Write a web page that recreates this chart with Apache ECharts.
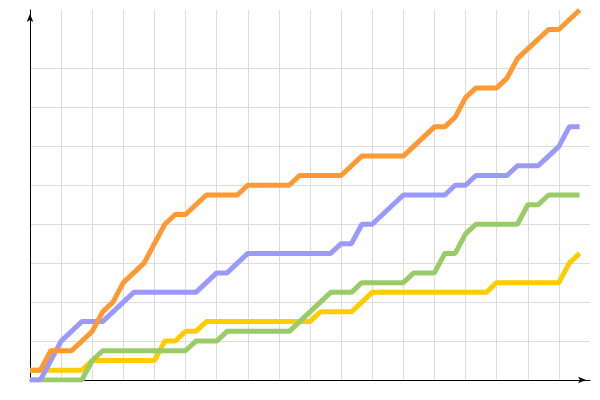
<!DOCTYPE html>
<html>
<head>
<meta charset="utf-8">
<script src="https://cdn.jsdelivr.net/npm/echarts@6/dist/echarts.min.js"></script>
<style>
  html, body { margin: 0; padding: 0; background: #fff; }
  #chart { width: 600px; height: 400px; }
</style>
</head>
<body>
<div id="chart"></div>
<script>
// cumulative counts, one value per step (54 steps)
var orange = [1, 1, 3, 3, 3, 4, 5, 7, 8, 10, 11, 12, 14, 16, 17, 17, 18, 19,
  19, 19, 19, 20, 20, 20, 20, 20, 21, 21, 21, 21, 21, 22, 23, 23, 23, 23,
  23, 24, 25, 26, 26, 27, 29, 30, 30, 30, 31, 33, 34, 35, 36, 36, 37, 38];
var purple = [0, 0, 2, 4, 5, 6, 6, 6, 7, 8, 9, 9, 9, 9, 9, 9, 9, 10,
  11, 11, 12, 13, 13, 13, 13, 13, 13, 13, 13, 13, 14, 14, 16, 16, 17, 18,
  19, 19, 19, 19, 19, 20, 20, 21, 21, 21, 21, 22, 22, 22, 23, 24, 26, 26];
var green = [0, 0, 0, 0, 0, 0, 2, 3, 3, 3, 3, 3, 3, 3, 3, 3, 4, 4,
  4, 5, 5, 5, 5, 5, 5, 5, 6, 7, 8, 9, 9, 9, 10, 10, 10, 10,
  10, 11, 11, 11, 13, 13, 15, 16, 16, 16, 16, 16, 18, 18, 19, 19, 19, 19];
var yellow = [1, 1, 1, 1, 1, 1, 2, 2, 2, 2, 2, 2, 2, 4, 4, 5, 5, 6,
  6, 6, 6, 6, 6, 6, 6, 6, 6, 6, 7, 7, 7, 7, 8, 9, 9, 9,
  9, 9, 9, 9, 9, 9, 9, 9, 9, 10, 10, 10, 10, 10, 10, 10, 12, 13];

var xMax = 54, xStep = 3;
var yMax = 38, yStep = 4;

function pts(arr) {
  return arr.map(function (v, i) { return [i, v]; });
}

var dom = document.getElementById('chart');
var myChart = echarts.init(dom, null, { renderer: 'canvas' });

var gridColor = '#dcdcdc';
// one color per drawn horizontal split line; the one at 36 is left out
var yLineColors = [gridColor, gridColor, gridColor, gridColor, gridColor,
  gridColor, gridColor, gridColor, gridColor, 'rgba(0,0,0,0)'];

var axisLine = {
  show: true,
  symbol: ['none', 'arrow'],
  symbolSize: [5, 8],
  symbolOffset: [0, -4],
  lineStyle: { color: '#000', width: 1 }
};

var option = {
  backgroundColor: '#fff',
  animation: false,
  grid: { left: 30, right: 10, top: 10, bottom: 20 },
  xAxis: {
    type: 'value',
    min: 0,
    max: xMax,
    interval: xStep,
    axisLine: axisLine,
    axisTick: { show: false },
    axisLabel: { show: false },
    splitLine: {
      show: true,
      showMinLine: false,
      showMaxLine: false,
      lineStyle: { color: gridColor, width: 1 }
    }
  },
  yAxis: {
    type: 'value',
    min: 0,
    max: yMax,
    interval: yStep,
    axisLine: axisLine,
    axisTick: { show: false },
    axisLabel: { show: false },
    splitLine: {
      show: true,
      showMaxLine: false,
      lineStyle: { color: yLineColors, width: 1 }
    }
  },
  series: [
    { name: 'yellow', data: pts(yellow), color: '#ffcc00' },
    { name: 'green', data: pts(green), color: '#99cc66' },
    { name: 'purple', data: pts(purple), color: '#9999ff' },
    { name: 'orange', data: pts(orange), color: '#ff9933' }
  ].map(function (s) {
    return {
      name: s.name,
      type: 'line',
      data: s.data,
      showSymbol: false,
      symbol: 'none',
      lineStyle: { color: s.color, width: 5 },
      itemStyle: { color: s.color }
    };
  })
};

myChart.setOption(option);
window.addEventListener('resize', myChart.resize);
</script>
</body>
</html>
